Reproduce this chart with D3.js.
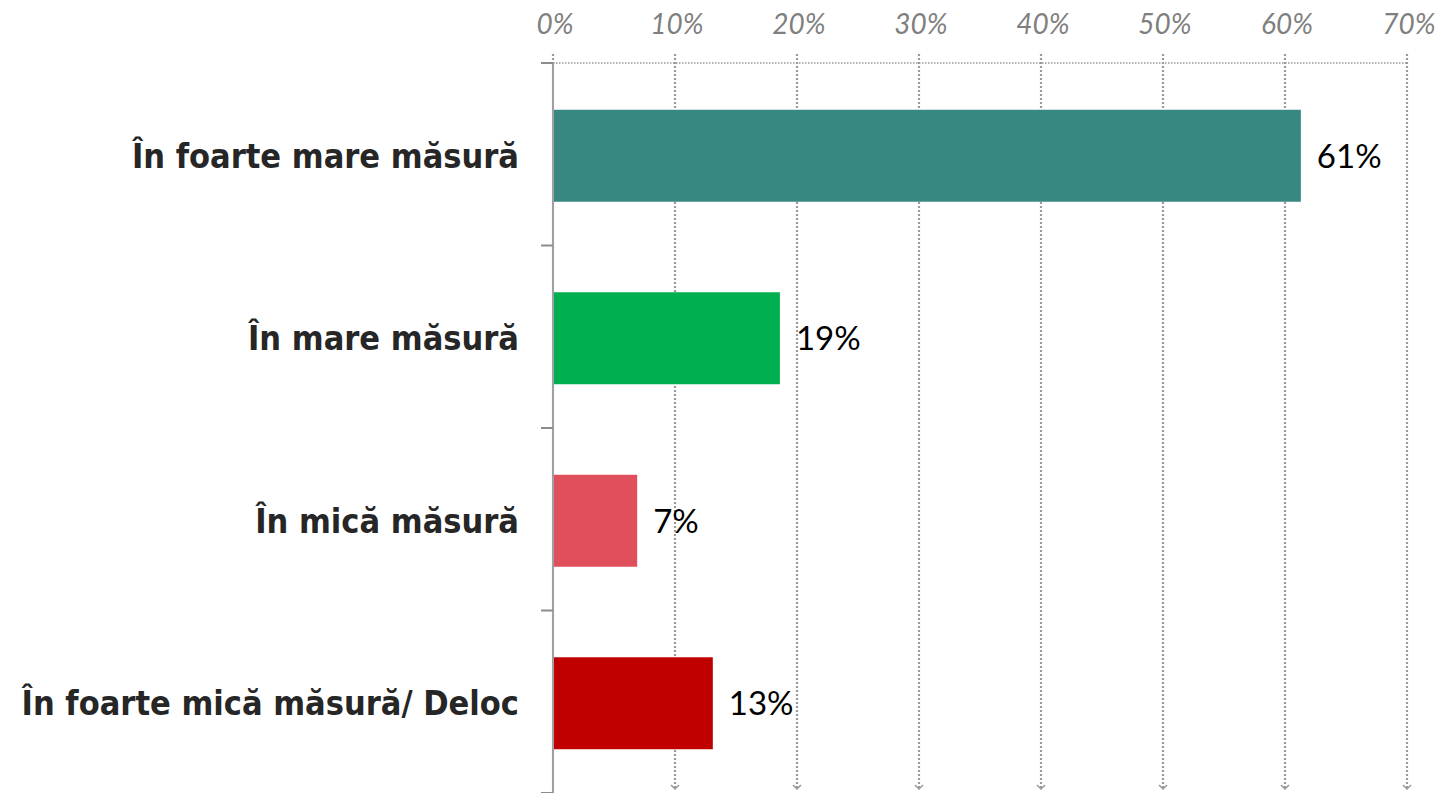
<!DOCTYPE html>
<html>
<head>
<meta charset="utf-8">
<script src="https://cdn.jsdelivr.net/npm/d3@7"></script>
<style>
  html, body { margin: 0; padding: 0; background: #fff; }
  svg { display: block; }
</style>
</head>
<body>
<div id="chart"></div>
<script>
// Horizontal bar chart, percentages per answer category

const categories = ['În foarte mare măsură', 'În mare măsură', 'În mică măsură', 'În foarte mică măsură/ Deloc'];
const values = [61.3, 18.6, 6.9, 13.1];
const barColors = ['#388882', '#00af50', '#e0505c', '#c00000'];
const xTicks = [0, 10, 20, 30, 40, 50, 60, 70];

const width = 1441, height = 793;
const plotLeft = 553, plotRight = 1407, plotTop = 63, plotBottom = 793;

const svg = d3.select('#chart').append('svg')
    .attr('width', width)
    .attr('height', height);

const x = d3.scaleLinear().domain([0, 70]).range([plotLeft, plotRight]);
const y = d3.scaleBand().domain(categories).range([plotTop + 1.5, plotBottom + 1.5])
    .paddingInner(0.496).paddingOuter(0.248);

// Gridlines (dotted, with small arrow at the bottom)
const grid = svg.append('g').attr('class', 'grid');
grid.selectAll('line.v').data(xTicks).join('line')
    .attr('class', 'v')
    .attr('x1', d => x(d)).attr('x2', d => x(d))
    .attr('y1', 54).attr('y2', 789)
    .attr('stroke', '#999')
    .attr('stroke-width', 2.2)
    .attr('stroke-dasharray', '2,2');
grid.selectAll('path.arrow').data(xTicks.slice(1)).join('path')
    .attr('class', 'arrow')
    .attr('d', d => `M ${x(d) - 4} ${785} L ${x(d)} ${789} L ${x(d) + 4} ${785}`)
    .attr('fill', 'none')
    .attr('stroke', '#999')
    .attr('stroke-width', 1.5);
grid.append('line')
    .attr('x1', x(0)).attr('x2', x(70) + 1)
    .attr('y1', plotTop).attr('y2', plotTop)
    .attr('stroke', '#999')
    .attr('stroke-width', 1.4)
    .attr('stroke-dasharray', '1.5,1.5');

// Top axis labels
svg.append('g').selectAll('text').data(xTicks).join('text')
    .attr('x', d => x(d) + 2)
    .attr('y', 34)
    .attr('text-anchor', 'middle')
    .attr('fill', '#7f7f7f')
    .attr('font-family', 'Lato, "Open Sans", sans-serif')
    .attr('font-style', 'italic')
    .attr('font-size', '28px')
    .text(d => d + '%');

// Bars
svg.append('g').selectAll('rect').data(categories).join('rect')
    .attr('x', x(0))
    .attr('y', d => y(d))
    .attr('width', (d, i) => x(values[i]) - x(0))
    .attr('height', y.bandwidth())
    .attr('fill', (d, i) => barColors[i]);

// Value labels
svg.append('g').selectAll('text').data(categories).join('text')
    .attr('x', (d, i) => x(values[i]) + 16)
    .attr('y', d => y(d) + y.bandwidth() / 2)
    .attr('dy', '0.36em')
    .attr('fill', '#000')
    .attr('font-family', 'Lato, "Open Sans", sans-serif')
    .attr('font-size', '33px')
    .text((d, i) => d3.format('.0f')(values[i]) + '%');

// Left axis: solid line with ticks at band boundaries
const axis = svg.append('g');
axis.append('line')
    .attr('x1', x(0)).attr('x2', x(0))
    .attr('y1', plotTop).attr('y2', plotBottom)
    .attr('stroke', '#a0a0a0')
    .attr('stroke-width', 2);
const bounds = d3.range(categories.length + 1).map(i => plotTop + i * y.step());
axis.selectAll('line.tick').data(bounds).join('line')
    .attr('class', 'tick')
    .attr('x1', x(0) - 12).attr('x2', x(0))
    .attr('y1', d => d).attr('y2', d => d)
    .attr('stroke', '#8c8c8c')
    .attr('stroke-width', 2);

// Category labels
axis.selectAll('text').data(categories).join('text')
    .attr('x', 519)
    .attr('y', d => y(d) + y.bandwidth() / 2)
    .attr('dy', '0.36em')
    .attr('text-anchor', 'end')
    .attr('fill', '#262626')
    .attr('font-family', '"DejaVu Sans Condensed", "DejaVu Sans", sans-serif')
    .attr('font-stretch', 'condensed')
    .attr('font-weight', 'bold')
    .attr('font-size', '34px')
    .text(d => d);
</script>
</body>
</html>
